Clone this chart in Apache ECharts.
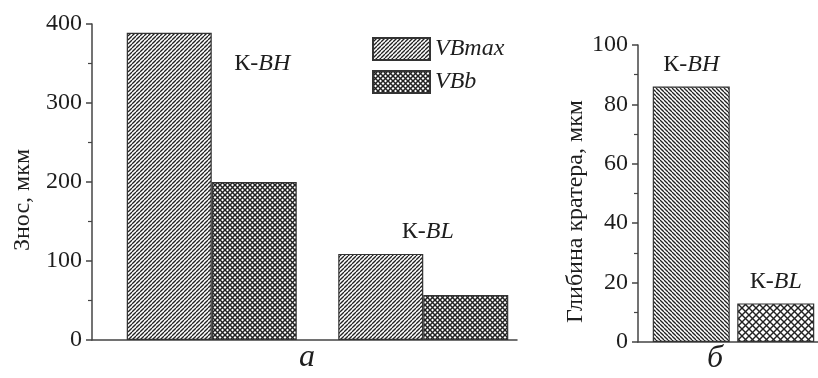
<!DOCTYPE html>
<html>
<head>
<meta charset="utf-8">
<script src="https://cdn.jsdelivr.net/npm/echarts@6/dist/echarts.min.js"></script>
<style>
  html, body { margin: 0; padding: 0; background: #fff; }
  #chart { width: 818px; height: 378px; }
</style>
</head>
<body>
<div id="chart"></div>
<script>
// data
const groups = ['К-BH', 'К-BL'];
const seriesNames = ['VBmax', 'VBb'];
const vbMax = [389, 109];
const vbB = [200, 57];
const craterDepth = [86, 13];
const wearTicks = [0, 100, 200, 300, 400];
const craterTicks = [0, 20, 40, 60, 80, 100];

const FONT = 'Liberation Serif';
const INK = '#1e1e1e';
const AXIS = '#444';

// hatch tile: '/' or '\\' lines, wrapped so the tile repeats seamlessly
function hatch(size, dirs, lw) {
  const c = document.createElement('canvas');
  c.width = c.height = size;
  const ctx = c.getContext('2d');
  ctx.fillStyle = '#fff';
  ctx.fillRect(0, 0, size, size);
  ctx.strokeStyle = '#222';
  ctx.lineWidth = lw;
  dirs.forEach(d => {
    for (let k = -1; k <= 1; k++) {
      ctx.beginPath();
      if (d === '/') {
        ctx.moveTo(k * size, size);
        ctx.lineTo(k * size + size, 0);
      } else {
        ctx.moveTo(k * size, 0);
        ctx.lineTo(k * size + size, size);
      }
      ctx.stroke();
    }
  });
  return { image: c, repeat: 'repeat' };
}

const fillMax = hatch(4, ['/'], 1.3);
const fillB = hatch(5, ['/', '\\'], 1.5);
const fillBH = hatch(4, ['\\'], 1.3);
const fillBL = hatch(7, ['/', '\\'], 1.4);

const border = { borderColor: '#333', borderWidth: 1.2 };

const rich = {
  n: { fontFamily: FONT, fontSize: 24, color: INK },
  i: { fontFamily: FONT, fontSize: 24, color: INK, fontStyle: 'italic' }
};
function groupLabel(name, offset) {
  const parts = name.split('-');
  return {
    show: true,
    position: 'top',
    distance: 10,
    offset: offset || [0, 0],
    formatter: '{n|' + parts[0] + '-}{i|' + parts[1] + '}',
    rich: rich
  };
}

function tickAxis(ticks, gridIndex, name) {
  return {
    gridIndex: gridIndex,
    type: 'value',
    min: ticks[0],
    max: ticks[ticks.length - 1],
    interval: ticks[1] - ticks[0],
    axisLine: { show: true, lineStyle: { color: AXIS, width: 1.5 } },
    axisTick: { show: true, length: 6, lineStyle: { color: AXIS, width: 1.5 } },
    minorTick: { show: true, splitNumber: 2, length: 4, lineStyle: { color: AXIS, width: 1.2 } },
    splitLine: { show: false },
    axisLabel: { fontFamily: FONT, fontSize: 24, color: INK, margin: 10 },
    name: name,
    nameLocation: 'middle',
    nameRotate: 90,
    nameTextStyle: { fontFamily: FONT, fontSize: 24, color: INK, padding: [0, 36, 0, 0] }
  };
}
function hiddenY(ticks, gridIndex) {
  return { gridIndex: gridIndex, type: 'value', min: ticks[0], max: ticks[ticks.length - 1], show: false };
}
function lineX(gridIndex) {
  return {
    gridIndex: gridIndex, type: 'category', data: [''],
    axisLine: { show: true, lineStyle: { color: AXIS, width: 1.5 } },
    axisTick: { show: false }, axisLabel: { show: false }
  };
}

const chart = echarts.init(document.getElementById('chart'));
chart.setOption({
  backgroundColor: '#fff',
  animation: false,
  grid: [
    { left: 106, right: 289, top: 24, bottom: 38 },   // bars, left panel
    { left: 92, right: 301, top: 24, bottom: 38 },    // axes, left panel
    { left: 649, right: -9, top: 45, bottom: 36 },    // bars, right panel
    { left: 638, right: -20, top: 45, bottom: 36 }    // axes, right panel
  ],
  xAxis: [
    { gridIndex: 0, type: 'category', data: groups, show: false },
    lineX(1),
    { gridIndex: 2, type: 'category', data: groups, show: false },
    lineX(3)
  ],
  yAxis: [
    hiddenY(wearTicks, 0),
    Object.assign(tickAxis(wearTicks, 1, 'Знос, мкм'), { nameGap: 56 }),
    hiddenY(craterTicks, 2),
    Object.assign(tickAxis(craterTicks, 3, 'Глибина кратера, мкм'), { nameGap: 47 })
  ],
  legend: {
    data: seriesNames,
    orient: 'vertical',
    left: 372,
    top: 37,
    padding: 0,
    itemWidth: 57,
    itemHeight: 22,
    itemGap: 9,
    icon: 'rect',
    textStyle: { fontFamily: FONT, fontSize: 24, fontStyle: 'italic', color: INK }
  },
  series: [
    {
      name: seriesNames[0],
      type: 'bar',
      xAxisIndex: 0, yAxisIndex: 0,
      barWidth: 85,
      barGap: '0%',
      itemStyle: Object.assign({ color: fillMax }, border),
      data: vbMax.map((v, i) => i === 1 ? { value: v, label: groupLabel(groups[1], [47, 0]) } : v)
    },
    {
      name: seriesNames[1],
      type: 'bar',
      xAxisIndex: 0, yAxisIndex: 0,
      barWidth: 85,
      barGap: '0%',
      itemStyle: Object.assign({ color: fillB }, border),
      data: vbB.map((v, i) => i === 0 ? { value: v, label: groupLabel(groups[0], [8, -96]) } : v)
    },
    {
      name: 'crater',
      type: 'bar',
      xAxisIndex: 2, yAxisIndex: 2,
      barWidth: 77,
      data: craterDepth.map((v, i) => ({
        value: v,
        itemStyle: Object.assign({ color: i === 0 ? fillBH : fillBL }, border),
        label: groupLabel(groups[i])
      }))
    }
  ],
  graphic: [
    { type: 'text', left: 299, top: 342, style: { text: 'а', font: 'italic 32px "Liberation Serif"', fill: INK } },
    { type: 'text', left: 707, top: 343, style: { text: 'б', font: 'italic 32px "Liberation Serif"', fill: INK } }
  ]
});
</script>
</body>
</html>
